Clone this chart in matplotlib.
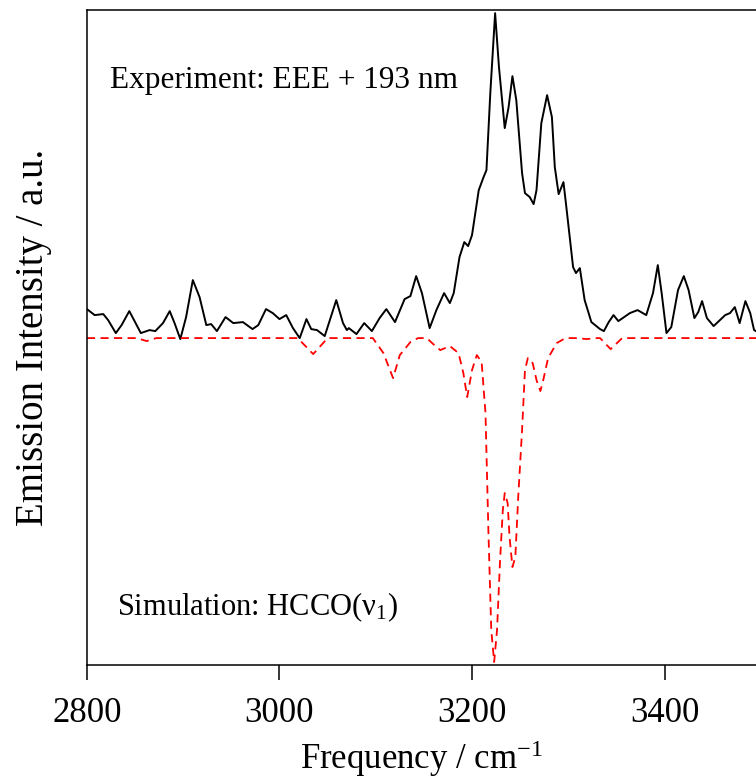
import matplotlib
matplotlib.use("Agg")
import matplotlib.pyplot as plt
import numpy as np

plt.rcParams['font.family'] = 'serif'
plt.rcParams['font.serif'] = ['Liberation Serif', 'DejaVu Serif']
plt.rcParams['mathtext.fontset'] = 'custom'
plt.rcParams['mathtext.rm'] = 'Liberation Serif'
plt.rcParams['mathtext.it'] = 'Liberation Serif:italic'

# experimental emission spectrum (arb. units)
exp_freq = [2800, 2808, 2817, 2822, 2830, 2836, 2844, 2850, 2856, 2865, 2871, 2879, 2886,
            2891, 2897, 2903, 2910, 2917, 2924, 2929, 2935, 2944, 2952, 2962, 2972, 2978,
            2986, 2993, 3000, 3007, 3014, 3021, 3024, 3028, 3033, 3039, 3047, 3053, 3059,
            3066, 3070, 3072, 3080, 3088, 3096, 3104, 3111, 3120, 3130, 3136, 3142, 3148,
            3156, 3163, 3171, 3177, 3181, 3187, 3192, 3196, 3200, 3207, 3212, 3215, 3219,
            3224, 3228, 3234, 3238, 3242, 3246, 3252, 3255, 3260, 3264, 3267, 3272, 3278,
            3283, 3286, 3290, 3295, 3298, 3305, 3308, 3312, 3317, 3324, 3333, 3337, 3342,
            3347, 3352, 3364, 3372, 3381, 3388, 3393, 3397, 3402, 3407, 3414, 3420, 3425,
            3431, 3435, 3439, 3444, 3451, 3463, 3468, 3473, 3478, 3484, 3489, 3493, 3495]
exp_int = [29, 23, 24, 18, 5, 13, 27, 16, 5, 8, 7, 15, 27,
           15, -1, 21, 58, 41, 13, 14, 7, 21, 15, 16, 9, 13,
           29, 25, 19, 23, 10, 0, 8, 19, 9, 8, 2, 20, 38,
           15, 8, 10, 4, 15, 7, 20, 29, 16, 39, 42, 62, 45,
           10, 28, 45, 35, 45, 81, 96, 92, 103, 148, 161, 168, 245,
           325, 271, 210, 231, 262, 238, 165, 145, 141, 134, 148, 215, 243,
           221, 171, 144, 156, 131, 71, 65, 70, 38, 16, 9, 7, 16,
           23, 17, 25, 28, 23, 45, 73, 45, 5, 11, 48, 62, 48,
           20, 26, 37, 20, 12, 23, 25, 31, 15, 37, 25, 8, 7]

# simulated HCCO(nu1) spectrum, plotted inverted
sim_freq = [2800, 2852, 2862, 2872, 3019, 3035, 3050, 3073, 3097, 3108, 3118, 3125, 3136,
            3144, 3153, 3162, 3167, 3177, 3186, 3191, 3195, 3200, 3205, 3210, 3214, 3217,
            3220, 3223, 3226, 3229, 3232, 3234, 3237, 3239, 3242, 3245, 3248, 3252, 3255,
            3258, 3263, 3267, 3271, 3274, 3279, 3288, 3297, 3309, 3319, 3330, 3333, 3344,
            3356, 3495]
sim_int = [0, 0, -3, 0, 0, -16, 0, 0, 0, -15, -40, -17, -4,
           0, 0, -8, -12, -8, -15, -35, -59, -32, -17, -24, -75, -192,
           -292, -324, -292, -225, -172, -155, -165, -199, -229, -219, -159, -92, -32,
           -20, -25, -42, -53, -42, -20, -5, 0, 0, -1, 0, 0, -11,
           0, 0]

xticks = [2800, 3000, 3200, 3400]

fig = plt.figure(figsize=(7.56, 7.81), dpi=100)
ax = fig.add_axes([0.115, 0.1485, 0.885, 0.8385])

ax.plot(exp_freq, exp_int, color='black', lw=1.4, solid_joinstyle='round')
ax.plot(sim_freq, sim_int, color='red', lw=1.3, linestyle=(0, (4.5, 3)))

ax.set_xlim(2800, 3495)
ax.set_ylim(-327, 328)
ax.set_xticks(xticks)
ax.set_yticks([])
ax.tick_params(axis='x', direction='out', length=11, width=1.1, labelsize=25, pad=12)
for s in ['left', 'bottom', 'top']:
    ax.spines[s].set_linewidth(1.1)
ax.spines['right'].set_visible(False)

ax.set_xlabel('Frequency / cm$^{-1}$', fontsize=25, labelpad=6)
ax.set_ylabel('Emission Intensity / a.u.', fontsize=28, labelpad=25)

ax.text(0.034, 0.893, 'Experiment: EEE + 193 nm', transform=ax.transAxes,
        fontsize=22.5, va='center', ha='left')
ax.text(0.045, 0.088, 'Simulation: HCCO(ν$_1$)', transform=ax.transAxes,
        fontsize=22, va='center', ha='left')

fig.savefig('out.png', dpi=100)
